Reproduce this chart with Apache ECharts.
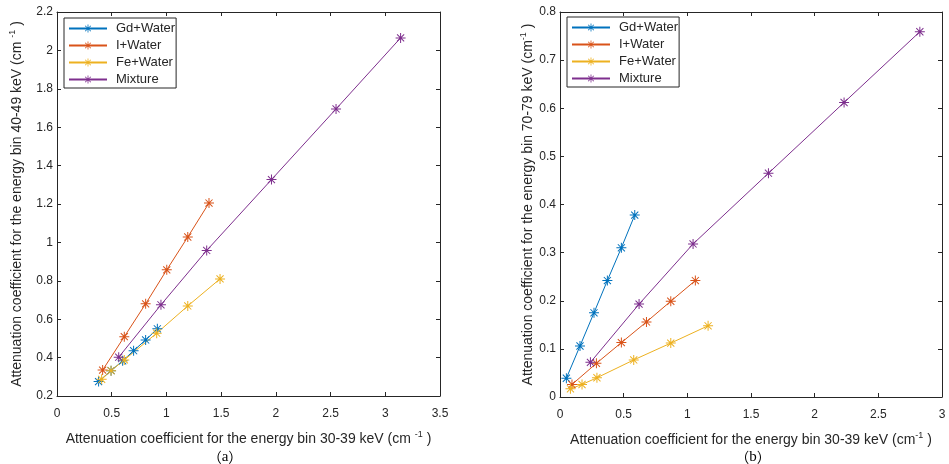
<!DOCTYPE html>
<html>
<head>
<meta charset="utf-8">
<script src="https://cdn.jsdelivr.net/npm/echarts@6/dist/echarts.min.js"></script>
<style>
html,body{margin:0;padding:0;background:#fff;}
#chart{width:949px;height:464px;}
</style>
</head>
<body>
<div id="chart"></div>
<script>
// ---- Data ----
const seriesNames = ['Gd+Water', 'I+Water', 'Fe+Water', 'Mixture'];

// Panel (a): x = 30-39 keV, y = 40-49 keV
const gdA_x = [0.38, 0.494, 0.60, 0.70, 0.81, 0.917];
const gdA_y = [0.275, 0.332, 0.383, 0.436, 0.492, 0.55];
const iA_x = [0.417, 0.615, 0.81, 1.003, 1.195, 1.389];
const iA_y = [0.335, 0.509, 0.68, 0.857, 1.028, 1.205];
const feA_x = [0.408, 0.494, 0.615, 0.911, 1.195, 1.49];
const feA_y = [0.287, 0.332, 0.388, 0.527, 0.669, 0.81];
const mixA_x = [0.564, 0.95, 1.368, 1.96, 2.55, 3.14];
const mixA_y = [0.402, 0.675, 0.958, 1.327, 1.695, 2.065];

// Panel (b): x = 30-39 keV, y = 70-79 keV
const gdB_x = [0.05, 0.157, 0.267, 0.372, 0.482, 0.587];
const gdB_y = [0.039, 0.106, 0.175, 0.242, 0.31, 0.378];
const iB_x = [0.094, 0.286, 0.482, 0.679, 0.87, 1.063];
const iB_y = [0.026, 0.07, 0.113, 0.156, 0.199, 0.242];
const feB_x = [0.082, 0.173, 0.29, 0.579, 0.87, 1.163];
const feB_y = [0.017, 0.026, 0.04, 0.077, 0.112, 0.148];
const mixB_x = [0.239, 0.621, 1.045, 1.637, 2.231, 2.826];
const mixB_y = [0.072, 0.193, 0.318, 0.465, 0.612, 0.759];

const colors = ['#0072BD', '#D95319', '#EDB120', '#7E2F8E'];

const pair = (xs, ys) => xs.map((x, i) => [x, ys[i]]);
const panelA = [pair(gdA_x, gdA_y), pair(iA_x, iA_y), pair(feA_x, feA_y), pair(mixA_x, mixA_y)];
const panelB = [pair(gdB_x, gdB_y), pair(iB_x, iB_y), pair(feB_x, feB_y), pair(mixB_x, mixB_y)];

// asterisk marker
const star = 'path://M9,0L11,0L11,20L9,20Z M0,9L20,9L20,11L0,11Z M2.2,3.6L3.6,2.2L17.8,16.4L16.4,17.8Z M16.4,2.2L17.8,3.6L3.6,17.8L2.2,16.4Z';

const axisColor = '#262626';
const font = '"Liberation Sans", Arial, sans-serif';

function mainAxis(extra) {
  return Object.assign({
    type: 'value',
    axisLine: { show: true, onZero: false, lineStyle: { color: axisColor, width: 1 } },
    axisTick: { show: true, inside: true, length: 4, lineStyle: { color: axisColor } },
    axisLabel: { color: axisColor, fontSize: 12, fontFamily: font },
    splitLine: { show: false }
  }, extra);
}
function mirrorAxis(extra) {
  return Object.assign({
    type: 'value',
    axisLine: { show: true, onZero: false, lineStyle: { color: axisColor, width: 1 } },
    axisTick: { show: true, inside: true, length: 4, lineStyle: { color: axisColor } },
    axisLabel: { show: false },
    splitLine: { show: false }
  }, extra);
}

const nameRich = {
  a: { fontSize: 14, fontFamily: font, color: axisColor, lineHeight: 18 },
  s: { fontSize: 9, fontFamily: font, color: axisColor, verticalAlign: 'top', lineHeight: 18, padding: [0, 0, 6, 0] }
};

const series = [];
[panelA, panelB].forEach((panel, p) => {
  panel.forEach((d, i) => {
    series.push({
      name: seriesNames[i],
      type: 'line',
      xAxisIndex: p * 2,
      yAxisIndex: p * 2,
      data: d,
      symbol: star,
      symbolSize: 10,
      showSymbol: true,
      lineStyle: { color: colors[i], width: 1 },
      itemStyle: { color: colors[i] },
      animation: false
    });
  });
});

function legend(left, top) {
  return {
    left: left, top: top, orient: 'vertical',
    data: seriesNames,
    itemWidth: 38, itemHeight: 10, itemGap: 2,
    padding: [3, 1, 1, 4],
    borderColor: axisColor, borderWidth: 1,
    backgroundColor: '#fff',
    textStyle: { fontSize: 13, lineHeight: 15, fontFamily: font, color: axisColor, padding: [0, 0, 0, 4] },
    selectedMode: false
  };
}

const capRich = {
  p: { fontSize: 14, fontFamily: '"Noto Sans CJK SC"', fill: '#000' },
  t: { fontSize: 15, fontFamily: '"Liberation Serif", serif', fill: '#000' }
};

const option = {
  backgroundColor: '#fff',
  animation: false,
  color: colors,
  grid: [
    { left: 57, top: 12, width: 383, height: 384 },
    { left: 560, top: 12, width: 382, height: 385 }
  ],
  xAxis: [
    mainAxis({ gridIndex: 0, min: 0, max: 3.5, interval: 0.5, position: 'bottom',
      axisLabel: { color: axisColor, fontSize: 12, fontFamily: font, margin: 12 },
      name: '{a|Attenuation coefficient for the energy bin 30-39 keV (cm }{s|-1}{a| )}',
      nameLocation: 'middle', nameGap: 34, nameTextStyle: { rich: nameRich } }),
    mirrorAxis({ gridIndex: 0, min: 0, max: 3.5, interval: 0.5, position: 'top' }),
    mainAxis({ gridIndex: 1, min: 0, max: 3, interval: 0.5, position: 'bottom',
      axisLabel: { color: axisColor, fontSize: 12, fontFamily: font, margin: 12 },
      name: '{a|Attenuation coefficient for the energy bin 30-39 keV (cm}{s|-1}{a| )}',
      nameLocation: 'middle', nameGap: 34, nameTextStyle: { rich: nameRich } }),
    mirrorAxis({ gridIndex: 1, min: 0, max: 3, interval: 0.5, position: 'top' })
  ],
  yAxis: [
    mainAxis({ gridIndex: 0, min: 0.2, max: 2.2, interval: 0.2, position: 'left',
      axisLabel: { color: axisColor, fontSize: 12, fontFamily: font, margin: 4 },
      name: '{a|Attenuation coefficient for the energy bin 40-49 keV (cm }{s|-1}{a| )}',
      nameLocation: 'middle', nameGap: 31, nameTextStyle: { rich: nameRich } }),
    mirrorAxis({ gridIndex: 0, min: 0.2, max: 2.2, interval: 0.2, position: 'right' }),
    mainAxis({ gridIndex: 1, min: 0, max: 0.8, interval: 0.1, position: 'left',
      axisLabel: { color: axisColor, fontSize: 12, fontFamily: font, margin: 4 },
      name: '{a|Attenuation coefficient for the energy bin 70-79 keV (cm}{s|-1}{a| )}',
      nameLocation: 'middle', nameGap: 23, nameTextStyle: { rich: nameRich } }),
    mirrorAxis({ gridIndex: 1, min: 0, max: 0.8, interval: 0.1, position: 'right' })
  ],
  legend: [legend(64, 18), legend(567, 17)],
  graphic: [
    { type: 'text', x: 225, y: 457, style: { text: '{p|（}{t|a}{p|）}', rich: capRich, align: 'center', verticalAlign: 'middle' } },
    { type: 'text', x: 753, y: 457, style: { text: '{p|（}{t|b}{p|）}', rich: capRich, align: 'center', verticalAlign: 'middle' } }
  ],
  series: series
};

const chart = echarts.init(document.getElementById('chart'), null, { renderer: 'canvas' });
chart.setOption(option);
</script>
</body>
</html>
